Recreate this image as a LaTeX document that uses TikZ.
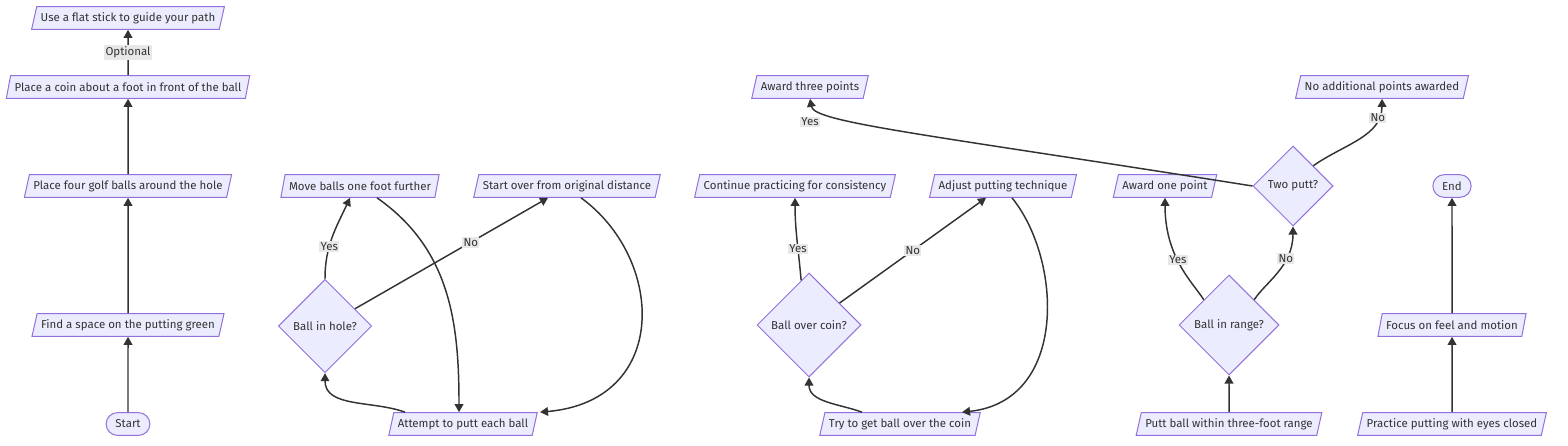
\documentclass[tikz,border=0pt]{standalone}
\usepackage{fontspec}
\setmainfont{Fira Sans}
\usetikzlibrary{arrows.meta}
\usetikzlibrary{positioning}
\usetikzlibrary{calc}
\usetikzlibrary{shapes.geometric}

\definecolor{boxfill}{HTML}{ECECFF}
\definecolor{boxline}{HTML}{9370DB}
\definecolor{edgeline}{HTML}{333333}
\definecolor{labelbg}{HTML}{E8E8E8}

\begin{document}
\begin{tikzpicture}[
			x=0.75pt, y=-0.75pt,
			node distance=74.25pt,
			font=\fontsize{8.6}{10}\selectfont, text=edgeline,
			>={Triangle[length=6pt,width=6.5pt]},
			state/.style={trapezium, trapezium left angle=70, trapezium right angle=110, trapezium stretches body, minimum height=17pt, inner xsep=3pt, inner ysep=1pt, text centered, draw=boxline, fill=boxfill, line width=0.75pt},
			terminal/.style={rectangle, rounded corners=8.5pt, minimum height=17pt, inner xsep=7pt, text centered, draw=boxline, fill=boxfill, line width=0.75pt},
			decision/.style={diamond, inner sep=0pt, text centered, draw=boxline, fill=boxfill, line width=0.75pt},
			flow/.style={draw=edgeline, line width=1.1pt},
			answer/.style={fill=labelbg, inner sep=1pt},
			]
			\useasboundingbox (0,0) rectangle (1568,446);
			
			\node[terminal]      (start)                                               at (128,424)   {Start};
			\node[state]         (find) [above of=start]                                              {Find a space on the putting green};
			\node[state]         (balls) [above of=find, yshift=30pt]                                 {Place four golf balls around the hole};
			\node[state]         (coin) [above of=balls]                                              {Place a coin about a foot in front of the ball};
			\node[state]         (stick) [above of=coin, yshift=-22.5pt]                              {Use a flat stick to guide your path};
			
			\node[state]         (attempt)                                             at (463,424)   {Attempt to putt each ball};
			\node[decision]      (hole) [minimum size=70pt]                            at (325,326)   {Ball in hole?};
			\node[state]         (further)                                             at (360,186)   {Move balls one foot further};
			\node[state]         (over)                                                at (567,186)   {Start over from original distance};
			
			\node[state]         (tryc)                                                at (900,424)   {Try to get ball over the coin};
			\node[decision]      (cross) [minimum size=78pt]                           at (809,325)   {Ball over coin?};
			\node[state]         (keepon)                                              at (795,186)   {Continue practicing for consistency};
			\node[state]         (adjust)                                              at (1003,186)  {Adjust putting technique};
			\node[state]         (three)                                               at (810,87)    {Award three points};
			
			\node[state]         (putt)                                                at (1229,424)  {Putt ball within three-foot range};
			\node[decision]      (range) [above of=putt, minimum size=75pt]                           {Ball in range?};
			\node[state]         (one)                                                 at (1165,186)  {Award one point};
			\node[decision]      (twoputt) [minimum size=60pt]                         at (1293,186)  {Two putt?};
			\node[state]         (none)                                                at (1382,87)   {No additional points awarded};
			
			\node[state]         (eyes)                                                at (1452,424)  {Practice putting with eyes closed};
			\node[state]         (feel) [above of=eyes]                                               {Focus on feel and motion};
			\node[terminal]      (end) [above of=feel, yshift=30pt]                                   {End};
			
			
			\draw [flow, arrows=->] (start)                          --                                                         (find);
			\draw [flow, arrows=->] (find)                           --                                                         (balls);
			\draw [flow, arrows=->] (balls)                          --                                                         (coin);
			\draw [flow, arrows=->] (coin)                           --node[answer]                    {Optional}               (stick);
			
			\draw [flow, arrows=->] ($(attempt.north)+(-58,0)$)      to[out=160,in=-90]                                         (hole.south);
			\draw [flow, arrows=->] (hole.north)                     to[out=90,in=-115] node[answer, pos=0.38] {Yes}            ($(further.south)+(-10,0)$);
			\draw [flow, arrows=->] (hole)                           --node[answer, pos=0.6]           {No}                     ($(over.south)+(-19,0)$);
			\draw [flow, arrows=->] ($(further.south)+(17,0)$)       to[out=-35,in=90]                                          ($(attempt.north)+(-4,0)$);
			\draw [flow, arrows=->] ($(over.south)+(14,0)$)          to[out=-36,in=5,out distance=78pt,in distance=98pt]        ($(attempt.north)+(77,0)$);
			
			\draw [flow, arrows=->] ($(tryc.north)+(-38,0)$)         to[out=160,in=-90]                                         (cross.south);
			\draw [flow, arrows=->] (cross.100)                      to[out=95,in=-90] node[answer, pos=0.37] {Yes}             (keepon.south);
			\draw [flow, arrows=->] (cross)                          --node[answer, pos=0.5]           {No}                     ($(adjust.south)+(-17,0)$);
			\draw [flow, arrows=->] ($(adjust.south)+(9,0)$)         to[out=-51,in=6,out distance=60pt,in distance=80pt]        ($(tryc.north)+(62,0)$);
			
			\draw [flow, arrows=->] (putt)                           --                                                         (range);
			\draw [flow, arrows=->] (range.north west)               to[out=122,in=-90,out distance=15pt,in distance=45pt] node[answer, pos=0.55] {Yes} (one.south);
			\draw [flow, arrows=->] (range.north east)               to[out=58,in=-90,out distance=15pt,in distance=30pt] node[answer, pos=0.68] {No}   (twoputt.south);
			\draw [flow, arrows=->] (twoputt.west)                   to[out=171,in=-80,out distance=250pt,in distance=18pt]     (three.south);
			\node[answer]        (yes3)                                                at (810,122)   {Yes};
			\draw [flow, arrows=->] (twoputt.north east)             to[out=35,in=-90] node[answer, pos=0.8] {No}               (none.south);
			
			\draw [flow, arrows=->] (eyes)                           --                                                         (feel);
			\draw [flow, arrows=->] (feel)                           --                                                         (end);
			
\end{tikzpicture}
\end{document}
